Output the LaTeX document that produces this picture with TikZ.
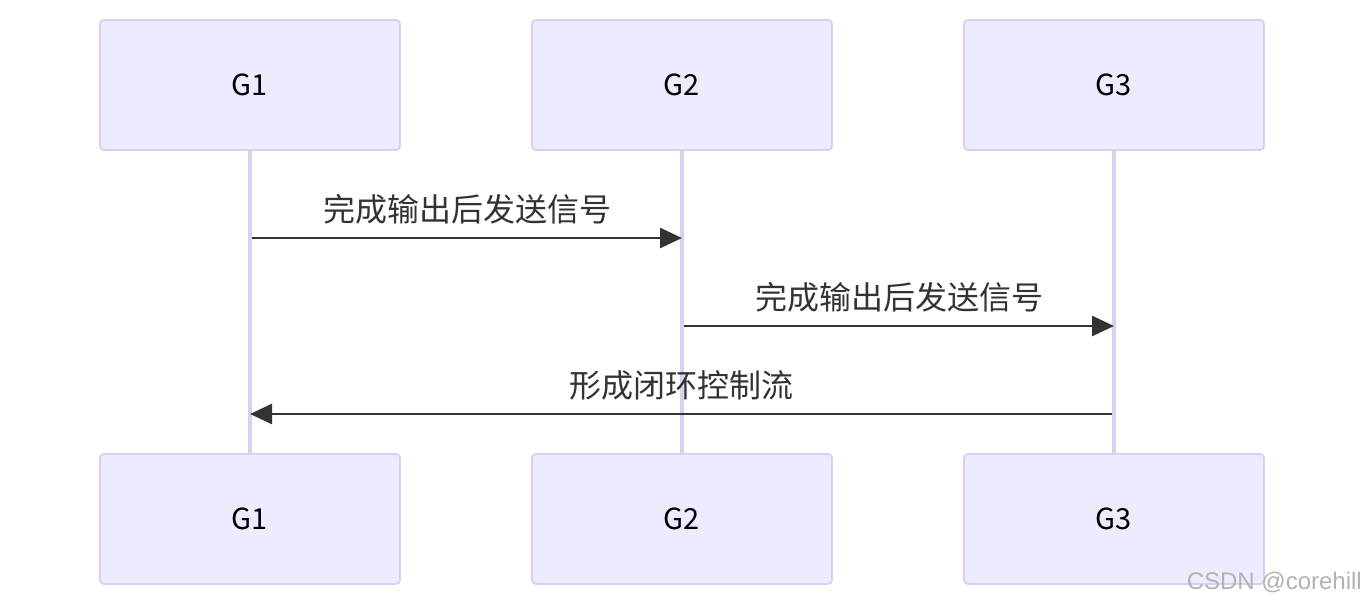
\documentclass[tikz,border=0pt]{standalone}
\usepackage{fontspec}
\setmainfont{Noto Sans CJK SC}
\newfontfamily\wmfont{Liberation Sans}
\usetikzlibrary{arrows.meta,positioning}
\definecolor{actfill}{HTML}{ECECFF}
\definecolor{actline}{HTML}{DACEF3}
\definecolor{msgcol}{HTML}{333333}
\tikzset{
  actor/.style={draw=actline,fill=actfill,line width=1.8pt,rounded corners=4pt,
    minimum width=300pt,minimum height=130pt,inner sep=0pt,font=\fontsize{29}{34}\selectfont},
  life/.style={draw=actline,line width=3.4pt},
  msg/.style={draw=msgcol,line width=2.6pt,-{Triangle[length=22pt,width=20pt]}},
  lbl/.style={text=msgcol,inner sep=0pt,font=\fontsize{32}{37}\selectfont},
}

\begin{document}
\begin{tikzpicture}[x=1pt,y=-1pt]
  \useasboundingbox (0,0) rectangle (1364,606);

  % lifelines first, boxes on top
  \coordinate (l1) at (250,150);
  \coordinate (l2) at (682,150);
  \coordinate (l3) at (1114,150);
  \coordinate (b1) at (250,454);
  \coordinate (b2) at (682,454);
  \coordinate (b3) at (1114,454);
  \draw[life] (l1) -- (b1);
  \draw[life] (l2) -- (b2);
  \draw[life] (l3) -- (b3);

  \node[actor] (g1t) at (250,85) {G1};
  \node[actor] (g2t) at (682,85) {G2};
  \node[actor] (g3t) at (1114,85) {G3};
  \node[actor] (g1b) at (250,519) {G1};
  \node[actor] (g2b) at (682,519) {G2};
  \node[actor] (g3b) at (1114,519) {G3};

  % messages
  \coordinate (m1a) at (252,238);
  \coordinate (m1b) at (682,238);
  \coordinate (m2a) at (684,326);
  \coordinate (m2b) at (1114,326);
  \coordinate (m3a) at (1112,414);
  \coordinate (m3b) at (250,414);
  \draw[msg] (m1a) -- node[lbl,yshift=29pt] (t1) {完成输出后发送信号} (m1b);
  \draw[msg] (m2a) -- node[lbl,yshift=29pt] (t2) {完成输出后发送信号} (m2b);
  \draw[msg] (m3a) -- node[lbl,yshift=29pt] (t3) {形成闭环控制流} (m3b);

  % watermark
  \node[anchor=east,inner sep=0pt,text=black!30,font=\wmfont\fontsize{24}{28}\selectfont]
    (wm) at (1362,582) {CSDN @corehill};
\end{tikzpicture}
\end{document}
